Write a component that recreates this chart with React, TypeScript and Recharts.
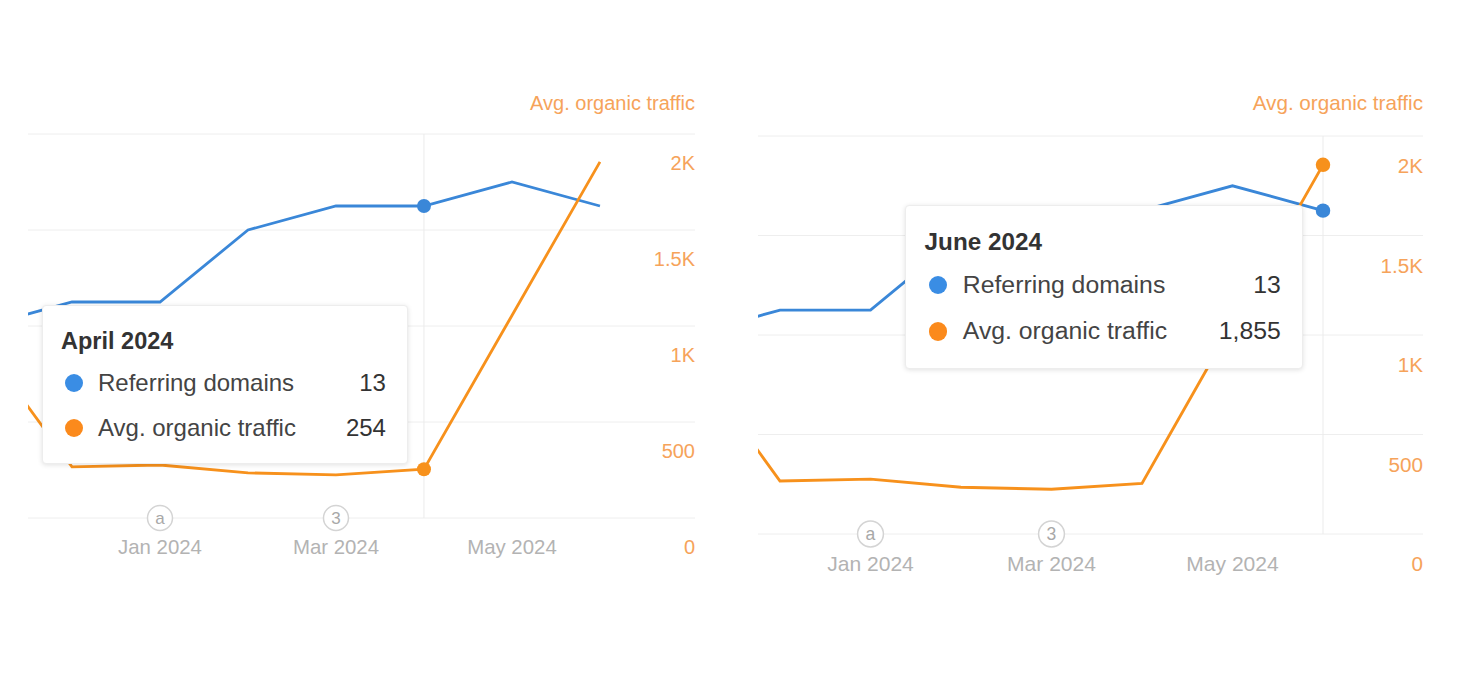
import React from 'react';
import { LineChart, Line, XAxis, YAxis, CartesianGrid, Tooltip, ReferenceDot } from 'recharts';

const months = ['Nov 2023', 'Dec 2023', 'Jan 2024', 'Feb 2024', 'Mar 2024', 'Apr 2024', 'May 2024', 'Jun 2024'];
const monthTitles = ['November 2023', 'December 2023', 'January 2024', 'February 2024', 'March 2024', 'April 2024', 'May 2024', 'June 2024'];
const referringDomains = [8, 9, 9, 12, 13, 13, 14, 13];
const avgOrganicTraffic = [895, 266, 276, 235, 225, 254, 1055, 1855];
const trafficTicks = [0, 500, 1000, 1500, 2000];
const monthTicks = [2, 4, 6];
const annotationIdx = [2, 4];
const annotationMarks = ['a', '3'];

const data = months.map((m, i) => ({
  idx: i,
  domains: referringDomains[i],
  traffic: avgOrganicTraffic[i],
}));

const FONT = '"Liberation Sans", Arial, Helvetica, sans-serif';
const BLUE = '#3a87d8';
const ORANGE = '#f7911c';
const AXIS_ORANGE = '#f6a35a';
const GREY_TEXT = '#b3b3b3';

const fmtTraffic = (v: number) => (v >= 1000 ? `${v / 1000}K` : `${v}`);

function TooltipBox({ active, payload, fs }: any) {
  if (!active || !payload || !payload.length) return null;
  const idx = payload[0].payload.idx;
  return (
    <div
      style={{
        background: '#fff',
        border: '1px solid #ededed',
        borderRadius: 4 * fs,
        boxShadow: '0 1px 5px rgba(0,0,0,0.12)',
        padding: `${20 * fs}px ${21 * fs}px ${13 * fs}px ${18 * fs}px`,
        fontFamily: FONT,
        whiteSpace: 'nowrap',
      }}
    >
      <div style={{ fontWeight: 700, fontSize: 23.5 * fs, lineHeight: `${30 * fs}px`, color: '#333', marginBottom: 4 * fs }}>
        {monthTitles[idx]}
      </div>
      {payload.map((p: any) => (
        <div key={p.dataKey} style={{ display: 'flex', alignItems: 'center', height: 45 * fs, fontSize: 24 * fs, color: '#444' }}>
          <span
            style={{
              display: 'inline-block',
              width: 18 * fs,
              height: 18 * fs,
              borderRadius: '50%',
              background: p.dataKey === 'domains' ? '#3a8de4' : '#fb8a1c',
              marginLeft: 4 * fs,
              marginRight: 15 * fs,
            }}
          />
          <span style={{ flex: 1 }}>{p.name}</span>
          <span style={{ paddingLeft: 50 * fs, color: '#333' }}>{Number(p.value).toLocaleString('en-US')}</span>
        </div>
      ))}
    </div>
  );
}

interface PanelProps {
  left: number;
  top: number;
  width: number;
  height: number;
  margin: { top: number; right: number; bottom: number; left: number };
  domainX: [number, number];
  activeIndex: number;
  tooltipPos: { x: number; y: number };
  fs: number;
}

function Panel({ left, top, width, height, margin, domainX, activeIndex, tooltipPos, fs }: PanelProps) {
  // the right axis takes 1px, so the plot still ends where the margin says
  const chartMargin = { ...margin, right: margin.right - 1 };
  return (
    <div style={{ position: 'absolute', left, top, width, height }}>
      <div
        style={{
          position: 'absolute',
          right: margin.right,
          top: 23 - 12 * fs,
          lineHeight: `${24 * fs}px`,
          fontSize: 20 * fs,
          color: AXIS_ORANGE,
          fontFamily: FONT,
        }}
      >
        Avg. organic traffic
      </div>
      <LineChart width={width} height={height} data={data} margin={chartMargin}>
        <CartesianGrid yAxisId="traffic" vertical={false} stroke="#eeeeee" strokeWidth={1} />
        <XAxis
          dataKey="idx"
          type="number"
          domain={domainX}
          allowDataOverflow
          ticks={monthTicks}
          axisLine={false}
          tickLine={false}
          tickSize={0}
          tickMargin={0}
          height={40}
          interval={0}
          tick={({ x, y, payload }: any) => (
            <text x={x} y={y + 29 * fs} textAnchor="middle" dominantBaseline="central" fill={GREY_TEXT} fontSize={20.4 * fs} fontFamily={FONT}>
              {months[payload.value]}
            </text>
          )}
        />
        <YAxis yAxisId="domains" hide domain={[0, 16]} />
        <YAxis
          yAxisId="traffic"
          orientation="right"
          width={1}
          domain={[0, 2000]}
          ticks={trafficTicks}
          axisLine={false}
          tickLine={false}
          tickSize={0}
          tickMargin={0}
          interval={0}
          tick={({ x, y, payload }: any) => (
            <text x={x} y={y + 29 * fs} textAnchor="end" dominantBaseline="central" fill={AXIS_ORANGE} fontSize={20 * fs} fontFamily={FONT}>
              {fmtTraffic(payload.value)}
            </text>
          )}
        />
        {annotationIdx.map((a, i) => (
          <ReferenceDot
            key={a}
            x={a}
            y={0}
            yAxisId="traffic"
            r={12.5 * fs}
            fill="#fff"
            stroke="#d4d4d4"
            strokeWidth={1.5}
            label={{ value: annotationMarks[i], position: 'center', fill: '#a8a8a8', fontSize: 17 * fs, fontFamily: FONT }}
          />
        ))}
        <Tooltip
          active
          defaultIndex={activeIndex}
          position={tooltipPos}
          cursor={{ stroke: '#ebebeb', strokeWidth: 1 }}
          isAnimationActive={false}
          content={(props: any) => <TooltipBox {...props} fs={fs} />}
        />
        <Line
          yAxisId="domains"
          dataKey="domains"
          name="Referring domains"
          type="linear"
          stroke={BLUE}
          strokeWidth={2.8 * fs}
          dot={false}
          activeDot={{ r: 7 * fs, fill: BLUE, stroke: BLUE, strokeWidth: 0 }}
          isAnimationActive={false}
        />
        <Line
          yAxisId="traffic"
          dataKey="traffic"
          name="Avg. organic traffic"
          type="linear"
          stroke={ORANGE}
          strokeWidth={2.8 * fs}
          dot={false}
          activeDot={{ r: 7 * fs, fill: ORANGE, stroke: ORANGE, strokeWidth: 0 }}
          isAnimationActive={false}
        />
      </LineChart>
    </div>
  );
}

export default function App() {
  return (
    <div style={{ position: 'absolute', left: 0, top: 0, width: 1464, height: 674, background: '#fff', overflow: 'hidden' }}>
      <Panel
        left={0}
        top={80}
        width={720}
        height={500}
        margin={{ top: 54, right: 25, left: 28, bottom: 22 }}
        domainX={[0.5, 8.08]}
        activeIndex={5}
        tooltipPos={{ x: 42, y: 225 }}
        fs={1}
      />
      <Panel
        left={730}
        top={80}
        width={720}
        height={520}
        margin={{ top: 56, right: 27, left: 28, bottom: 26 }}
        domainX={[0.757, 8.105]}
        activeIndex={7}
        tooltipPos={{ x: 175, y: 125 }}
        fs={1.033}
      />
    </div>
  );
}
